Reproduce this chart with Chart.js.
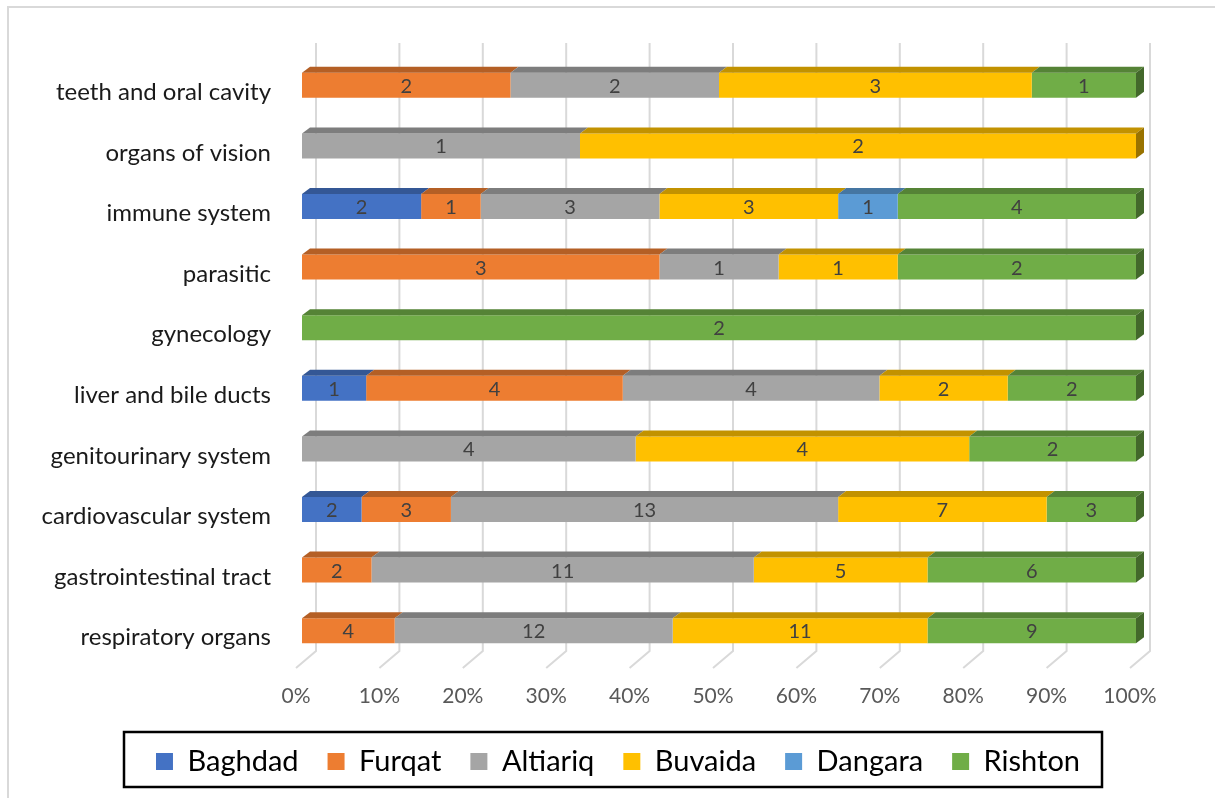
<!DOCTYPE html>
<html>
<head>
<meta charset="utf-8">
<title>Diseases by district</title>
<script src="https://cdn.jsdelivr.net/npm/chart.js@4.4.1/dist/chart.umd.min.js"></script>
<style>
    html, body { margin: 0; padding: 0; background: #fff; overflow: hidden; }
    #wrap { position: relative; width: 1215px; height: 798px; }
    #frame { position: absolute; left: 7px; top: 6px; width: 1300px; height: 900px; border: 2px solid #d9d9d9; }
    #chart { position: absolute; left: 0; top: 0; }
</style>
</head>
<body>
<div id="wrap">
    <div id="frame"></div>
    <canvas id="chart" width="1215" height="798"></canvas>
</div>
<script>
// ------------------------------------------
// Dados: número de casos por grupo de doenças e distrito
// ------------------------------------------
const categories = [
    'teeth and oral cavity',
    'organs of vision',
    'immune system',
    'parasitic',
    'gynecology',
    'liver and bile ducts',
    'genitourinary system',
    'cardiovascular system',
    'gastrointestinal tract',
    'respiratory organs'
];

const districts = ['Baghdad', 'Furqat', 'Altiariq', 'Buvaida', 'Dangara', 'Rishton'];

const baghdad  = [0, 0, 2, 0, 0, 1, 0,  2,  0,  0];
const furqat   = [2, 0, 1, 3, 0, 4, 0,  3,  2,  4];
const altiariq = [2, 1, 3, 1, 0, 4, 4, 13, 11, 12];
const buvaida  = [3, 2, 3, 1, 0, 2, 4,  7,  5, 11];
const dangara  = [0, 0, 1, 0, 0, 0, 0,  0,  0,  0];
const rishton  = [1, 0, 4, 2, 2, 2, 2,  3,  6,  9];

const percentTicks = [0, 10, 20, 30, 40, 50, 60, 70, 80, 90, 100];

const seriesCounts = [baghdad, furqat, altiariq, buvaida, dangara, rishton];
const seriesColors = ['#4472C4', '#ED7D31', '#A5A5A5', '#FFC000', '#5B9BD5', '#70AD47'];

// total por categoria, usado para o empilhamento 100%
const totals = categories.map((_, i) => seriesCounts.reduce((sum, s) => sum + s[i], 0));

// ------------------------------------------
// Escurece uma cor hex (faces 3D)
// ------------------------------------------
function shade(hex, f) {
    const n = parseInt(hex.slice(1), 16);
    const r = Math.round(((n >> 16) & 255) * f);
    const g = Math.round(((n >> 8) & 255) * f);
    const b = Math.round((n & 255) * f);
    return `rgb(${r}, ${g}, ${b})`;
}

const FONT = 'Lato, "Open Sans", sans-serif';
const DEPTH_X = 8, DEPTH_Y = 6;

// Grade "de fundo" deslocada, com a dobra no piso
const backGrid = {
    id: 'backGrid',
    beforeDatasetsDraw(chart) {
        const { ctx, chartArea } = chart;
        const xs = chart.scales.x;
        ctx.save();
        ctx.strokeStyle = '#d9d9d9';
        ctx.lineWidth = 2;
        percentTicks.forEach(v => {
            const px = xs.getPixelForValue(v);
            ctx.beginPath();
            ctx.moveTo(px + 14, chartArea.top - 12);
            ctx.lineTo(px + 14, chartArea.bottom - 10);
            ctx.lineTo(px - 6, chartArea.bottom + 7);
            ctx.stroke();
        });
        ctx.restore();
    }
};

// Faces superior / lateral das barras e rótulos de valor
const bars3d = {
    id: 'bars3d',
    afterDatasetsDraw(chart) {
        const { ctx } = chart;
        const endPx = chart.scales.x.getPixelForValue(100);
        ctx.save();
        chart.data.datasets.forEach((ds, di) => {
            const meta = chart.getDatasetMeta(di);
            meta.data.forEach((bar, i) => {
                if (!ds.counts[i]) return;
                const { x, y, base, height } = bar.getProps(['x', 'y', 'base', 'height'], true);
                const top = y - height / 2, bottom = y + height / 2;

                ctx.fillStyle = shade(ds.backgroundColor, 0.76);
                ctx.beginPath();
                ctx.moveTo(base, top);
                ctx.lineTo(x, top);
                ctx.lineTo(x + DEPTH_X, top - DEPTH_Y);
                ctx.lineTo(base + DEPTH_X, top - DEPTH_Y);
                ctx.closePath();
                ctx.fill();

                if (Math.abs(x - endPx) < 1) {
                    ctx.fillStyle = shade(ds.backgroundColor, 0.6);
                    ctx.beginPath();
                    ctx.moveTo(x, top);
                    ctx.lineTo(x + DEPTH_X, top - DEPTH_Y);
                    ctx.lineTo(x + DEPTH_X, bottom - DEPTH_Y);
                    ctx.lineTo(x, bottom);
                    ctx.closePath();
                    ctx.fill();
                }
            });
        });

        ctx.font = `20px ${FONT}`;
        ctx.fillStyle = '#404040';
        ctx.textAlign = 'center';
        ctx.textBaseline = 'middle';
        chart.data.datasets.forEach((ds, di) => {
            const meta = chart.getDatasetMeta(di);
            meta.data.forEach((bar, i) => {
                if (!ds.counts[i]) return;
                const { x, y, base } = bar.getProps(['x', 'y', 'base'], true);
                ctx.fillText(String(ds.counts[i]), (x + base) / 2, y + 1);
            });
        });
        ctx.restore();
    }
};

// Legenda deslocada e moldura preta em volta
const legendFrame = {
    id: 'legendFrame',
    afterLayout(chart) {
        const lg = chart.legend;
        lg.left += 45;
        lg.right += 45;
    },
    afterDraw(chart) {
        const { ctx } = chart;
        ctx.save();
        ctx.strokeStyle = '#000';
        ctx.lineWidth = 2.5;
        ctx.strokeRect(124, 732, 978, 55);
        ctx.restore();
    }
};

Chart.defaults.font.family = FONT;

new Chart(document.getElementById('chart'), {
    type: 'bar',
    data: {
        labels: categories,
        datasets: districts.map((name, k) => ({
            label: name,
            counts: seriesCounts[k],
            data: seriesCounts[k].map((c, i) => c / totals[i] * 100),
            backgroundColor: seriesColors[k],
            borderWidth: 0,
            barPercentage: 0.413,
            categoryPercentage: 1
        }))
    },
    options: {
        indexAxis: 'y',
        responsive: false,
        animation: false,
        layout: { padding: { left: 10, right: 79, top: 55, bottom: 12 } },
        plugins: {
            legend: {
                position: 'bottom',
                labels: {
                    color: '#000',
                    boxWidth: 17,
                    boxHeight: 17,
                    padding: 29,
                    font: { size: 29 }
                }
            },
            tooltip: { enabled: false }
        },
        scales: {
            x: {
                stacked: true,
                min: 0,
                max: 100,
                grid: { display: false, drawTicks: false },
                border: { display: false },
                ticks: {
                    stepSize: 10,
                    padding: 23,
                    labelOffset: -6,
                    color: '#595959',
                    font: { size: 21 },
                    callback: v => v + '%'
                },
                afterFit: s => { s.height = 57; }
            },
            y: {
                stacked: true,
                grid: { display: false, drawTicks: false },
                border: { display: false },
                ticks: {
                    padding: 31,
                    labelOffset: 7,
                    color: '#1a1a1a',
                    font: { size: 24 }
                },
                afterFit: s => { s.width = 292; }
            }
        }
    },
    plugins: [backGrid, bars3d, legendFrame]
});
</script>
</body>
</html>
